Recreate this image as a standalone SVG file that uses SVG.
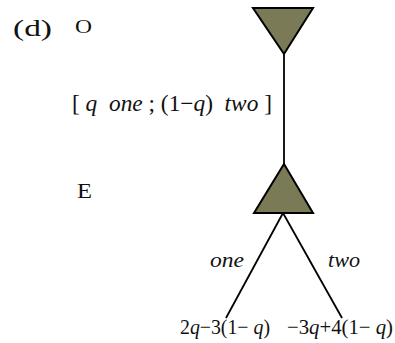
<svg xmlns="http://www.w3.org/2000/svg" width="395" height="343" viewBox="0 0 395 343">
<style>
text{font-family:"Liberation Serif","Times New Roman",serif;fill:#111}
.it{font-style:italic}
.node{fill:#7b7a56;stroke:#000;stroke-width:2;stroke-linejoin:miter}
.edge{stroke:#000;stroke-width:1.8;fill:none}
</style>
<rect width="395" height="343" fill="#fff"/>
<text x="13" y="36" font-size="24" textLength="39" lengthAdjust="spacingAndGlyphs">(d)</text>
<text x="75" y="33" font-size="18" textLength="17" lengthAdjust="spacingAndGlyphs">O</text>
<text x="77" y="198" font-size="21" textLength="15" lengthAdjust="spacingAndGlyphs">E</text>
<text x="72" y="111" font-size="23" textLength="200" lengthAdjust="spacingAndGlyphs" xml:space="preserve">[ <tspan class="it">q</tspan>  <tspan class="it">one</tspan> ; (1−<tspan class="it">q</tspan>)  <tspan class="it">two</tspan> ]</text>
<g id="connectors">
<line class="edge" x1="284" y1="54" x2="284" y2="164"/>
<line class="edge" x1="283" y1="213" x2="226" y2="318"/>
<line class="edge" x1="283" y1="213" x2="342" y2="318"/>
</g>
<g id="node-O">
<polygon class="node" points="253,8 313,8 284,54"/>
</g>
<g id="node-E">
<polygon class="node" points="284,164 313,213 254,213"/>
</g>
<text class="it" x="210" y="267" font-size="22" textLength="34" lengthAdjust="spacingAndGlyphs">one</text>
<text class="it" x="328" y="267" font-size="22" textLength="32" lengthAdjust="spacingAndGlyphs">two</text>
<text x="180" y="334" font-size="21" textLength="90" lengthAdjust="spacingAndGlyphs" xml:space="preserve">2<tspan class="it">q</tspan>−3(1− <tspan class="it">q</tspan>)</text>
<text x="287" y="334" font-size="21" textLength="106" lengthAdjust="spacingAndGlyphs" xml:space="preserve">−3<tspan class="it">q</tspan>+4(1− <tspan class="it">q</tspan>)</text>
</svg>
